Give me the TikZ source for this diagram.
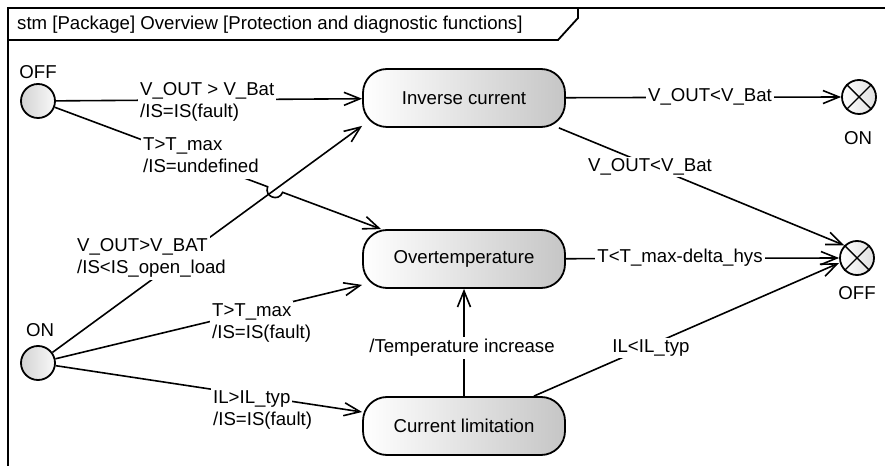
\documentclass[tikz,border=0pt]{standalone}
\usepackage{fontspec}
\setmainfont{Liberation Sans}
\usetikzlibrary{arrows.meta,calc}
% one line of a guard label, on its own white strip
\newcommand{\wline}[1]{{\fboxsep=0pt\colorbox{white}{\hspace{2bp}\strut #1\hspace{2bp}}}}

\begin{document}
\begin{tikzpicture}[x=1bp,y=-1bp,
  every node/.style={font=\fontsize{18.7}{22}\selectfont},
  statebox/.style={draw, line width=1.8bp, rounded corners=24bp,
    minimum width=202bp, minimum height=58bp, inner sep=0,
    left color=white, right color=gray!45},
  initstate/.style={circle, draw, line width=1.8bp, minimum size=34bp,
    inner sep=0, left color=gray!35, right color=gray!5},
  finalstate/.style={circle, draw, line width=1.8bp, minimum size=34bp,
    inner sep=0, left color=white, right color=gray!25},
  conn/.style={line width=1.6bp},
  trans/.style={conn, -{Straight Barb[length=16bp,width=13bp]}},
  guard/.style={fill=white, inner sep=2bp},
  guard2/.style={inner sep=0, align=left, anchor=west},
  framestroke/.style={line width=1.8bp}
]
\useasboundingbox (0,0) rectangle (885,466);

% diagram frame and name tab
\draw[framestroke] (8,470) -- (8,8) -- (890,8);
\draw[framestroke] (8,40) -- (558,40) -- (578,18) -- (578,8);
\node[anchor=west, inner sep=0] (title) at (17,25)
  {stm [Package] Overview [Protection and diagnostic functions]};

% states
\node[statebox] (inv) at (464,98)  {Inverse current};
\node[statebox] (ovt) at (464,259) {Overtemperature};
\node[statebox] (cur) at (464,426) {Current limitation};

% initial pseudostates
\node[initstate] (offI) at (38,101) {};
\node[initstate] (onI)  at (38,363) {};
\node (offIname) at (38,72)  {OFF};
\node (onIname)  at (40,330) {ON};

% final states
\node[finalstate] (onF)  at (859,97)  {};
\node[finalstate] (offF) at (857,258) {};
\draw[line width=1.4bp] (onF.45) -- (onF.225) (onF.135) -- (onF.315);
\draw[line width=1.4bp] (offF.45) -- (offF.225) (offF.135) -- (offF.315);
\node (onFname)  at (858,138) {ON};
\node (offFname) at (857,293) {OFF};

% attachment points on the state borders
\coordinate (t2)  at ($(ovt.north west)+(19,0)$);
\coordinate (t3)  at ($(inv.south west)+(0,-2)$);
\coordinate (t9)  at ($(ovt.south west)+(0,-4)$);
\coordinate (t10) at ($(cur.west)+(0,-14)$);
\coordinate (s5)  at ($(inv.south east)+(-7,0)$);
\coordinate (s7)  at ($(cur.north east)+(-32,0)$);

% crossing of the two long transitions, with a jump-over
\coordinate (jmp) at (intersection of offI.center--t2 and onI.center--t3);
\coordinate (jA) at ($(jmp)!8bp!(offI.center)$);
\coordinate (jB) at ($(jmp)!8bp!(t2)$);

% transitions
\draw[trans] (offI) -- (inv);
\draw[trans] (offI) -- (jA)
  .. controls ($(jA)+(-3.8,10)$) and ($(jB)+(-3.8,10)$) .. (jB) -- (t2);
\draw[trans] (onI) -- (t3);
\draw[trans] (onI) -- (t9);
\draw[trans] (onI) -- (t10);
\draw[trans] (inv) -- (onF.west);
\draw[trans] (s5) -- (offF.north west);
\draw[trans] (ovt) -- (offF.west);
\draw[trans] (s7) -- ($(offF.west)+(0,5)$);
\draw[trans] (cur) -- (ovt);

% guards and effects
\node[guard2] (g1)  at (138,102) {\wline{V\_OUT > V\_Bat}\\\wline{/IS=IS(fault)}};
\node[guard2] (g2)  at (141,157) {\wline{T>T\_max}\\\wline{/IS=undefined}};
\node[guard2] (g3)  at (75,258)  {\wline{V\_OUT>V\_BAT}\\\wline{/IS<IS\_open\_load}};
\node[guard2] (g9)  at (210,323) {\wline{T>T\_max}\\\wline{/IS=IS(fault)}};
\node[guard2] (g10) at (211,410) {\wline{IL>IL\_typ}\\\wline{/IS=IS(fault)}};
\node[guard] (g4) at (710,97)  {V\_OUT<V\_Bat};
\node[guard] (g5) at (650,167) {V\_OUT<V\_Bat};
\node[guard] (g6) at (680,258) {T<T\_max-delta\_hys};
\node[guard] (g7) at (651,348) {IL<IL\_typ};
\node[guard] (g8) at (462,348) {/Temperature increase};
\end{tikzpicture}
\end{document}
